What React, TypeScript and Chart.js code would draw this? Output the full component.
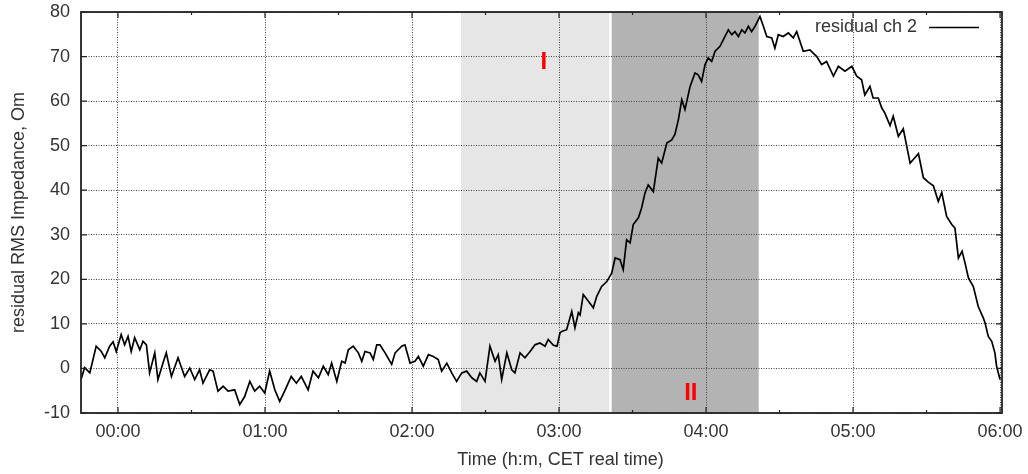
import React, { useEffect, useRef } from "react";
import { Chart, registerables } from "chart.js";
Chart.register(...registerables);

// time in minutes after 00:00 (CET real time)
const timeMin = [
  -15.1, -13.6, -11.5, -10.2, -8.9, -6.8, -5.4, -3.4, -2.0, -0.7,
  1.3, 2.7, 4.1, 5.4, 6.8, 8.9, 10.2, 11.6, 12.9, 15.0,
  16.3, 18.4, 19.7, 21.8, 24.5, 27.2, 29.3, 31.3, 33.3, 34.7,
  37.4, 38.8, 40.8, 42.9, 44.9, 47.6, 49.7, 51.7, 53.8, 55.8,
  57.8, 59.9, 61.9, 64.0, 66.0, 68.0, 70.7, 72.8, 74.8, 77.6,
  79.6, 81.8, 83.8, 85.8, 87.2, 89.3, 91.3, 92.7, 94.0, 96.0,
  98.1, 99.5, 100.8, 102.9, 104.2, 105.6, 106.9, 109.0, 111.7, 113.1,
  115.8, 117.1, 119.2, 121.2, 122.6, 124.6, 126.7, 128.7, 130.7, 132.1,
  134.2, 136.2, 138.2, 140.3, 142.3, 144.4, 146.4, 147.7, 149.8, 151.8,
  153.9, 155.2, 156.6, 158.7, 160.7, 162.0, 164.1, 166.1, 168.2, 170.2,
  172.2, 174.3, 175.6, 177.7, 179.2, 180.4, 181.1, 183.1, 185.2, 186.5,
  187.9, 188.6, 189.9, 192.0, 194.0, 195.4, 197.4, 199.5, 201.5, 202.9,
  204.9, 206.2, 207.6, 209.0, 210.3, 212.4, 213.7, 215.1, 216.4, 218.5,
  220.5, 221.9, 224.0, 226.0, 227.3, 228.7, 230.1, 231.4, 233.5, 235.5,
  236.8, 238.2, 239.6, 240.9, 242.3, 243.7, 245.7, 247.7, 249.1, 250.5,
  251.8, 253.2, 254.6, 255.9, 257.3, 258.6, 260.0, 262.0, 263.4, 264.8,
  266.8, 268.1, 269.5, 271.5, 273.6, 275.6, 277.0, 279.7, 282.4, 285.2,
  287.2, 289.2, 292.0, 294.0, 296.7, 299.5, 301.5, 303.5, 304.8, 306.9,
  308.2, 310.3, 311.7, 313.0, 315.1, 316.4, 318.5, 320.5, 323.3, 324.6,
  326.7, 328.7, 330.7, 332.8, 334.8, 336.2, 338.2, 340.3, 341.6, 343.0,
  344.5, 345.7, 347.1, 349.1, 351.1, 353.2, 353.9, 355.2, 356.6, 357.9,
  358.6, 360.0,
];

// residual RMS impedance, channel 2 (Om)
const residualCh2 = [
  -2.5, 0.2, -1.0, 2.0, 5.0, 3.8, 2.4, 5.0, 6.0, 3.8,
  7.6, 5.3, 7.2, 3.8, 6.9, 4.2, 6.1, 5.3, -1.0, 3.5,
  -2.5, 1.3, 3.5, -1.8, 2.4, -1.8, 0.1, -2.5, -0.3, -3.3,
  -0.3, -0.6, -5.1, -4.0, -5.1, -4.8, -8.1, -6.3, -2.9, -5.1,
  -4.0, -5.5, -0.6, -4.8, -7.4, -5.1, -1.8, -3.3, -1.8, -4.8,
  -0.6, -2.1, 0.5, -1.4, 1.2, -2.9, 1.6, 1.2, 4.2, 5.0,
  3.5, 1.6, 3.8, 3.5, 2.0, 5.3, 5.3, 3.5, 0.9, 3.5,
  5.0, 5.3, 1.2, 1.6, 2.7, 0.5, 3.1, 2.7, 2.0, -0.6,
  1.2, -1.0, -2.9, -1.0, -0.6, -2.1, -2.9, -1.0, -2.9, 5.0,
  1.6, 3.1, -2.5, 3.5, -0.3, -1.0, 3.5, 2.4, 3.8, 5.3,
  5.7, 5.0, 6.5, 5.2, 5.0, 8.0, 8.3, 8.7, 12.8, 9.1,
  12.5, 12.0, 16.6, 15.1, 13.6, 16.2, 18.4, 19.5, 21.4, 24.8,
  24.4, 22.2, 28.9, 28.2, 32.3, 33.8, 36.0, 39.4, 41.2, 39.7,
  47.2, 46.1, 50.6, 51.3, 52.5, 55.8, 60.3, 58.1, 63.3, 66.3,
  65.9, 64.4, 68.2, 69.7, 68.9, 71.2, 72.3, 74.5, 76.0, 74.9,
  75.6, 74.5, 76.0, 75.3, 76.8, 75.6, 76.8, 79.0, 76.8, 74.5,
  74.2, 71.9, 74.9, 74.5, 75.3, 74.2, 75.6, 71.2, 71.5, 70.0,
  68.2, 68.9, 65.6, 67.8, 66.7, 67.8, 65.6, 64.8, 61.4, 63.3,
  60.7, 60.7, 58.5, 57.3, 54.5, 56.6, 52.1, 53.8, 46.1, 46.9,
  48.2, 42.8, 41.8, 41.0, 37.5, 39.5, 34.1, 32.3, 31.5, 24.8,
  26.3, 23.7, 20.3, 18.4, 13.9, 11.3, 10.2, 7.2, 6.1, 3.5,
  0.5, -2.5,
];

const seriesLabel = "residual ch 2";
const xTitle = "Time (h:m, CET real time)";
const yTitle = "residual RMS Impedance, Om";

const xMin = -15.1;
const xMax = 360.8;
const xTickMinutes = [0, 60, 120, 180, 240, 300, 360];
const xMinorTickMinutes = [30, 90, 150, 210, 270, 330];
const yMin = -10;
const yMax = 80;
const yStep = 10;

// shaded intervals (minutes)
const shadeStart = [140, 201.5];
const shadeEnd = [200.5, 261.5];
const shadeColors = ["#e6e6e6", "#b3b3b3"];

// region labels (data units)
const regionLabels = ["I", "II"];
const regionLabelX = [173.8, 233.8];
const regionLabelY = [68.7, -5.7];

const FONT = "'Liberation Sans', Arial, Helvetica, sans-serif";
const TEXT_COLOR = "#333";
const GRID_COLOR = "#444";
const GRID_DASH = [1, 1.5];

const fmtTime = (m: number) => {
  const h = Math.floor(m / 60);
  const mm = Math.round(m - h * 60);
  return `${String(h).padStart(2, "0")}:${String(mm).padStart(2, "0")}`;
};

const decorPlugin = {
  id: "decor",
  beforeDraw(chart: any) {
    const { ctx, chartArea, scales } = chart;
    const x = scales.x;
    ctx.save();
    shadeStart.forEach((s, i) => {
      const x0 = x.getPixelForValue(s);
      const x1 = x.getPixelForValue(shadeEnd[i]);
      ctx.fillStyle = shadeColors[i];
      ctx.fillRect(x0, chartArea.top, x1 - x0, chartArea.bottom - chartArea.top);
    });
    ctx.restore();
  },
  afterDatasetsDraw(chart: any) {
    const { ctx, scales } = chart;
    ctx.save();
    ctx.fillStyle = "#ff0000";
    ctx.font = `bold 24px ${FONT}`;
    ctx.textAlign = "center";
    ctx.textBaseline = "middle";
    regionLabels.forEach((t, i) => {
      ctx.fillText(t, scales.x.getPixelForValue(regionLabelX[i]), scales.y.getPixelForValue(regionLabelY[i]));
    });
    ctx.restore();
  },
  afterDraw(chart: any) {
    const { ctx, chartArea, scales } = chart;
    const { left, right, top, bottom } = chartArea;
    ctx.save();
    // inward ticks
    ctx.strokeStyle = "#222";
    ctx.lineWidth = 1.2;
    ctx.beginPath();
    xTickMinutes.forEach((v) => {
      const px = scales.x.getPixelForValue(v);
      ctx.moveTo(px, bottom); ctx.lineTo(px, bottom - 6);
      ctx.moveTo(px, top); ctx.lineTo(px, top + 6);
    });
    xMinorTickMinutes.forEach((v) => {
      const px = scales.x.getPixelForValue(v);
      ctx.moveTo(px, bottom); ctx.lineTo(px, bottom - 3);
      ctx.moveTo(px, top); ctx.lineTo(px, top + 3);
    });
    for (let v = yMin; v <= yMax; v += yStep) {
      const py = scales.y.getPixelForValue(v);
      ctx.moveTo(left, py); ctx.lineTo(left + 6, py);
      ctx.moveTo(right, py); ctx.lineTo(right - 6, py);
    }
    ctx.stroke();
    // frame
    ctx.strokeStyle = "#222";
    ctx.lineWidth = 1.8;
    ctx.strokeRect(left, top, right - left, bottom - top);
    // legend
    ctx.font = `18px ${FONT}`;
    ctx.fillStyle = TEXT_COLOR;
    ctx.textAlign = "right";
    ctx.textBaseline = "middle";
    const ly = top + 15.5;
    ctx.fillText(seriesLabel, right - 85, ly);
    ctx.strokeStyle = "#000";
    ctx.lineWidth = 1.5;
    ctx.beginPath();
    ctx.moveTo(right - 73, ly);
    ctx.lineTo(right - 23, ly);
    ctx.stroke();
    // x title
    ctx.textAlign = "center";
    ctx.fillText(xTitle, (left + right) / 2 + 19, 460);
    ctx.restore();
  },
};

export default function App() {
  const canvasRef = useRef<HTMLCanvasElement | null>(null);
  useEffect(() => {
    const canvas = canvasRef.current;
    if (!canvas) return;
    const chart = new Chart(canvas, {
      type: "line",
      data: {
        datasets: [
          {
            label: seriesLabel,
            data: timeMin.map((t, i) => ({ x: t, y: residualCh2[i] })),
            borderColor: "#000",
            borderWidth: 1.7,
            pointRadius: 0,
            tension: 0,
            fill: false,
          },
        ],
      },
      options: {
        responsive: false,
        maintainAspectRatio: false,
        animation: false,
        events: [],
        layout: { padding: { top: 12, right: 26, left: 0, bottom: 0 } },
        plugins: { legend: { display: false }, tooltip: { enabled: false } },
        scales: {
          x: {
            type: "linear",
            min: xMin,
            max: xMax,
            afterBuildTicks: (s: any) => {
              s.ticks = xTickMinutes.map((v) => ({ value: v }));
            },
            afterFit: (s: any) => {
              s.height = 61;
            },
            ticks: {
              callback: (v: any) => fmtTime(Number(v)),
              font: { family: FONT, size: 18 },
              color: TEXT_COLOR,
              padding: 0,
              maxRotation: 0,
              autoSkip: false,
            },
            grid: { color: GRID_COLOR, lineWidth: 1, drawTicks: true, tickLength: 8, tickColor: "rgba(0,0,0,0)" },
            border: { display: false, dash: GRID_DASH },
          },
          y: {
            type: "linear",
            min: yMin,
            max: yMax,
            afterFit: (s: any) => {
              s.width = 81;
            },
            ticks: {
              stepSize: yStep,
              font: { family: FONT, size: 18 },
              color: TEXT_COLOR,
              padding: 0,
            },
            title: {
              display: true,
              text: yTitle,
              font: { family: FONT, size: 18 },
              color: TEXT_COLOR,
              padding: { top: 8, bottom: 0 },
            },
            grid: { color: GRID_COLOR, lineWidth: 1, drawTicks: true, tickLength: 11, tickColor: "rgba(0,0,0,0)" },
            border: { display: false, dash: GRID_DASH },
          },
        },
      },
      plugins: [decorPlugin],
    });
    return () => chart.destroy();
  }, []);
  return (
    <div style={{ position: "absolute", left: 0, top: 0, width: 1028, height: 474, background: "#fff" }}>
      <canvas ref={canvasRef} width={1028} height={474} style={{ display: "block", width: 1028, height: 474 }} />
    </div>
  );
}
